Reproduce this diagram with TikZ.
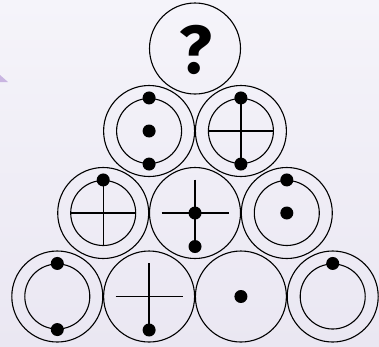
\documentclass[tikz,border=0pt]{standalone}
\usepackage{fontspec}
\newfontfamily\qfont{Fira Sans}
\definecolor{bgA}{HTML}{F5F4FA}
\definecolor{bgB}{HTML}{EAE7F2}
\definecolor{tri}{HTML}{C9B5E1}
\begin{document}
\begin{tikzpicture}[x=1pt,y=-1pt,
  outer/.style={draw, circle, line width=1.1pt, minimum size=91pt, inner sep=0pt},
  inner/.style={draw, circle, line width=1.1pt, minimum size=65pt, inner sep=0pt},
  ghost/.style={circle, minimum size=67pt, inner sep=0pt, outer sep=0pt},
  dot/.style={fill, circle, inner sep=0pt, minimum size=13pt},
  bar/.style={line width=1.4pt}]
\shade[top color=bgA, bottom color=bgB] (0,0) rectangle (379,346);
\useasboundingbox (0,0) rectangle (379,346);
\fill[tri] (0,75) -- (8,82) -- (0,82) -- cycle;
% top
\node[outer] (c1) at (195,48.5) {};
\node[font=\qfont\bfseries\fontsize{68}{68}\selectfont, inner sep=0pt] (q) at (195.5,50) {?};
% row 2
\node[outer] (c2) at (149.1,131) {};
\node[inner] (i2) at (c2.center) {};
\node[dot] (d2a) at (i2.north) {};
\node[dot] (d2b) at (i2.center) {};
\node[dot] (d2c) at (i2.south) {};
\node[outer] (c3) at (240.9,131) {};
\node[inner] (i3) at (c3.center) {};
\draw[bar] (i3.north) -- (i3.south);
\draw[bar] (i3.west) -- (i3.east);
\node[dot] (d3a) at (i3.north) {};
\node[dot] (d3b) at (i3.south) {};
% row 3
\node[outer] (c4) at (103.2,213) {};
\node[inner] (i4) at (c4.center) {};
\draw[bar] (i4.north) -- (i4.south);
\draw[bar] (i4.west) -- (i4.east);
\node[dot] (d4a) at (i4.north) {};
\node[outer] (c5) at (195,213) {};
\node[ghost] (g5) at (c5.center) {};
\draw[bar] (g5.north) -- (g5.south);
\draw[bar] (g5.west) -- (g5.east);
\node[dot] (d5a) at (g5.center) {};
\node[dot] (d5b) at (g5.south) {};
\node[outer] (c6) at (286.8,213) {};
\node[inner] (i6) at (c6.center) {};
\node[dot] (d6a) at (i6.north) {};
\node[dot] (d6b) at (i6.center) {};
% row 4
\node[outer] (c7) at (57.3,296.5) {};
\node[inner] (i7) at (c7.center) {};
\node[dot] (d7a) at (i7.north) {};
\node[dot] (d7b) at (i7.south) {};
\node[outer] (c8) at (149.1,296.5) {};
\node[ghost] (g8) at (c8.center) {};
\draw[bar] (g8.north) -- (g8.south);
\draw[bar] (g8.west) -- (g8.east);
\node[dot] (d8a) at (g8.south) {};
\node[outer] (c9) at (240.9,296.5) {};
\node[dot] (d9a) at (c9.center) {};
\node[outer] (c10) at (332.7,296.5) {};
\node[inner] (i10) at (c10.center) {};
\node[dot] (d10a) at (i10.north) {};
\end{tikzpicture}
\end{document}
